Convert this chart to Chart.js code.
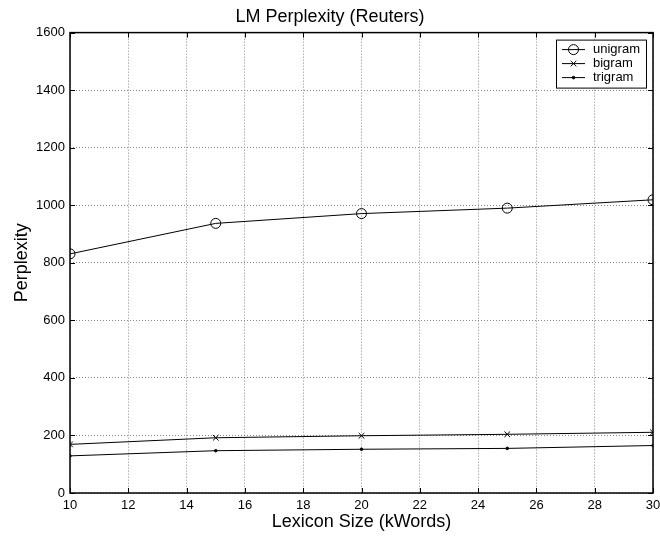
<!DOCTYPE html>
<html>
<head>
<meta charset="utf-8">
<script src="https://cdn.jsdelivr.net/npm/chart.js@4"></script>
<style>
  body { margin: 0; background: #fff; }
  #wrap { width: 660px; height: 540px; }
</style>
</head>
<body>
<div id="wrap"><canvas id="lmChart"></canvas></div>
<script>
// values
const lexiconSize = [10, 15, 20, 25, 30];
const unigram = [831, 937, 971, 990, 1019];
const bigram = [169, 192, 199, 204, 211];
const trigram = [129, 147, 152, 155, 165];

const FONT = 'Liberation Sans, Arial, Helvetica, sans-serif';

function toPoints(values) {
    return lexiconSize.map((x, i) => ({ x: x, y: values[i] }));
}

// matlab style frame with inward ticks on all four sides
const framePlugin = {
    id: 'frame',
    afterDraw(chart) {
        const ctx = chart.ctx;
        const area = chart.chartArea;
        const len = 5;
        ctx.save();
        ctx.strokeStyle = '#000';
        ctx.lineWidth = 1;
        ctx.beginPath();
        chart.scales.x.ticks.forEach(t => {
            const px = Math.round(chart.scales.x.getPixelForValue(t.value)) + 0.5;
            ctx.moveTo(px, area.bottom);
            ctx.lineTo(px, area.bottom - len);
            ctx.moveTo(px, area.top);
            ctx.lineTo(px, area.top + len);
        });
        chart.scales.y.ticks.forEach(t => {
            const py = Math.round(chart.scales.y.getPixelForValue(t.value)) + 0.5;
            ctx.moveTo(area.left, py);
            ctx.lineTo(area.left + len, py);
            ctx.moveTo(area.right, py);
            ctx.lineTo(area.right - len, py);
        });
        ctx.stroke();
        ctx.lineWidth = 1.5;
        ctx.strokeRect(area.left, area.top, area.right - area.left, area.bottom - area.top);
        ctx.restore();
    }
};

// legend box with line + marker, like the matlab one
const legendBoxPlugin = {
    id: 'legendBox',
    afterDraw(chart) {
        const ctx = chart.ctx;
        const area = chart.chartArea;
        const boxW = 90, boxH = 48;
        const x0 = area.right - 7 - boxW;
        const y0 = area.top + 7;
        ctx.save();
        ctx.fillStyle = '#fff';
        ctx.fillRect(x0, y0, boxW, boxH);
        ctx.strokeStyle = '#000';
        ctx.lineWidth = 1;
        ctx.strokeRect(x0 + 0.5, y0 + 0.5, boxW, boxH);
        ctx.font = '13px ' + FONT;
        ctx.textBaseline = 'middle';
        chart.data.datasets.forEach((ds, i) => {
            const y = y0 + 10 + i * 14;
            ctx.strokeStyle = '#000';
            ctx.lineWidth = 1;
            ctx.beginPath();
            ctx.moveTo(x0 + 6, y);
            ctx.lineTo(x0 + 29, y);
            ctx.stroke();
            ctx.fillStyle = ds.pointBackgroundColor;
            ctx.strokeStyle = '#000';
            Chart.helpers.drawPoint(ctx, {
                pointStyle: ds.pointStyle,
                radius: ds.pointRadius,
                rotation: 0,
                borderWidth: 1
            }, x0 + 17.5, y);
            ctx.fillStyle = '#000';
            ctx.fillText(ds.label, x0 + 37, y);
        });
        ctx.restore();
    }
};

new Chart(document.getElementById('lmChart'), {
    type: 'line',
    data: {
        datasets: [{
            label: 'unigram',
            data: toPoints(unigram),
            borderColor: '#000',
            borderWidth: 1,
            pointStyle: 'circle',
            pointRadius: 5,
            pointBorderColor: '#000',
            pointBackgroundColor: 'rgba(0,0,0,0)',
            pointBorderWidth: 1,
            fill: false
        }, {
            label: 'bigram',
            data: toPoints(bigram),
            borderColor: '#000',
            borderWidth: 1,
            pointStyle: 'crossRot',
            pointRadius: 4,
            pointBorderColor: '#000',
            pointBackgroundColor: '#000',
            pointBorderWidth: 1,
            fill: false
        }, {
            label: 'trigram',
            data: toPoints(trigram),
            borderColor: '#000',
            borderWidth: 1,
            pointStyle: 'circle',
            pointRadius: 1.3,
            pointBorderColor: '#000',
            pointBackgroundColor: '#000',
            pointBorderWidth: 1,
            fill: false
        }]
    },
    options: {
        responsive: true,
        maintainAspectRatio: false,
        animation: false,
        layout: { padding: { left: 0, right: 0, top: 0, bottom: 0 } },
        plugins: {
            legend: { display: false },
            tooltip: { enabled: false },
            title: {
                display: true,
                text: 'LM Perplexity (Reuters)',
                color: '#000',
                font: { family: FONT, size: 18, weight: 'normal' },
                padding: { top: 6, bottom: 5 }
            }
        },
        scales: {
            x: {
                type: 'linear',
                min: 10,
                max: 30,
                afterFit: s => { s.height = 47; s.paddingRight = 7; },
                ticks: {
                    stepSize: 2,
                    color: '#000',
                    padding: 5,
                    maxRotation: 0,
                    font: { family: FONT, size: 13 },
                    callback: v => String(v)
                },
                grid: { color: '#888', lineWidth: 1, drawTicks: false },
                border: { display: false, dash: [1, 2] },
                title: {
                    display: true,
                    text: 'Lexicon Size (kWords)',
                    color: '#000',
                    font: { family: FONT, size: 18 },
                    padding: { top: 0, bottom: 7 }
                }
            },
            y: {
                min: 0,
                max: 1600,
                afterFit: s => { s.width = 70; },
                ticks: {
                    stepSize: 200,
                    color: '#000',
                    padding: 5,
                    font: { family: FONT, size: 13 },
                    callback: v => String(v)
                },
                grid: { color: '#888', lineWidth: 1, drawTicks: false },
                border: { display: false, dash: [1, 2] },
                title: {
                    display: true,
                    text: 'Perplexity',
                    color: '#000',
                    font: { family: FONT, size: 18 },
                    padding: { top: 11, bottom: 0 }
                }
            }
        }
    },
    plugins: [framePlugin, legendBoxPlugin]
});
</script>
</body>
</html>
